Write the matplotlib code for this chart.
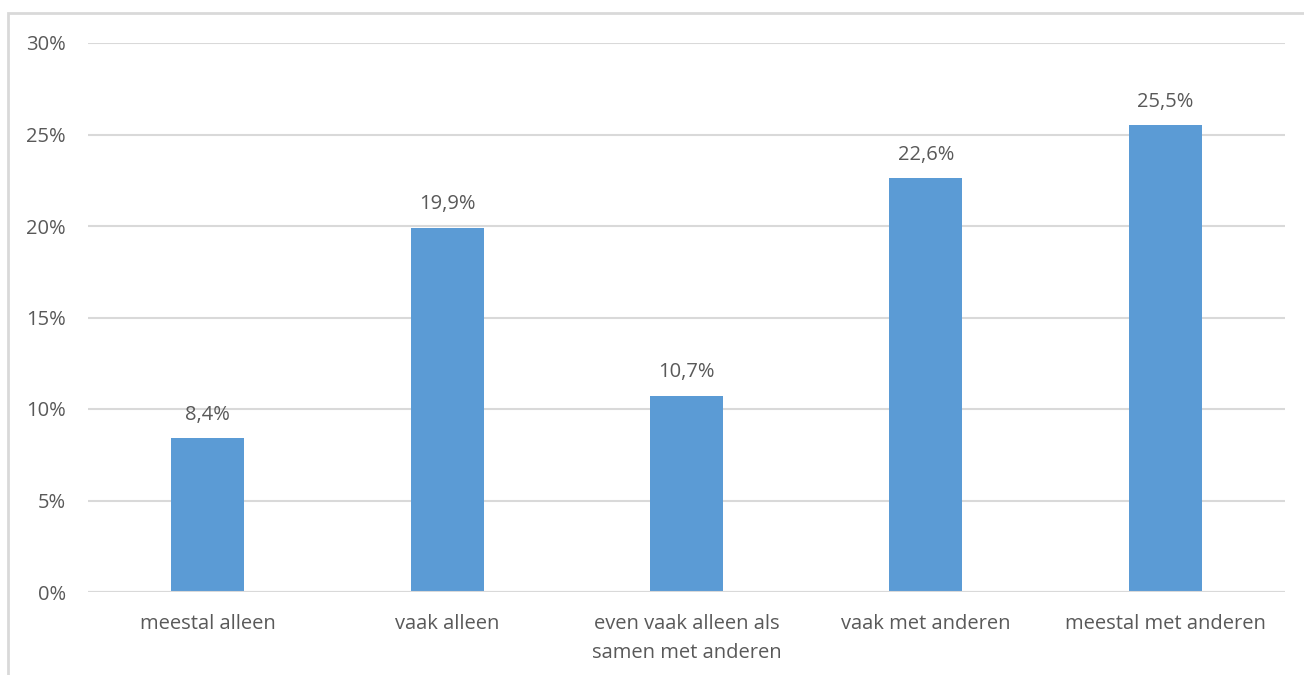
import matplotlib.pyplot as plt
from matplotlib.patches import Rectangle

categories = ["meestal alleen", "vaak alleen", "even vaak alleen als\nsamen met anderen",
              "vaak met anderen", "meestal met anderen"]
values = [8.4, 19.9, 10.7, 22.6, 25.5]
yticks = [0, 5, 10, 15, 20, 25, 30]

plt.rcParams['font.family'] = ['Open Sans', 'DejaVu Sans']
text_col = '#595959'
grid_col = '#D9D9D9'

fig = plt.figure(figsize=(13.04, 6.75), dpi=100)
# outer chart border (runs off the right and bottom edge)
fig.patches.append(Rectangle((8 / 1304, -0.1), 1.2, 1 - 13 / 675 + 0.1,
                             transform=fig.transFigure, fill=False,
                             edgecolor=grid_col, linewidth=2))

ax = fig.add_axes([88 / 1304, 83 / 675, 1197 / 1304, 549 / 675])
x = range(len(categories))
bars = ax.bar(x, values, width=0.305, color='#5B9BD5', zorder=3)
for b, v in zip(bars, values):
    ax.text(b.get_x() + b.get_width() / 2, v + 0.75, f"{v:.1f}%".replace('.', ','),
            ha='center', va='bottom', fontsize=14.5, color=text_col)

ax.set_xlim(-0.5, len(categories) - 0.5)
ax.set_ylim(0, 30)
ax.set_yticks(yticks)
ax.set_yticklabels([f"{t}%" for t in yticks])
ax.set_xticks(list(x))
ax.set_xticklabels(categories, linespacing=1.6)
ax.grid(axis='y', color=grid_col, linewidth=1.5, zorder=0)
for s in ax.spines.values():
    s.set_visible(False)
ax.axhline(0, color=grid_col, linewidth=1.5, zorder=4)
ax.tick_params(length=0, labelsize=14.5, colors=text_col)
ax.tick_params(axis='y', pad=16)
ax.tick_params(axis='x', pad=16)

fig.savefig('out.png', dpi=100)
